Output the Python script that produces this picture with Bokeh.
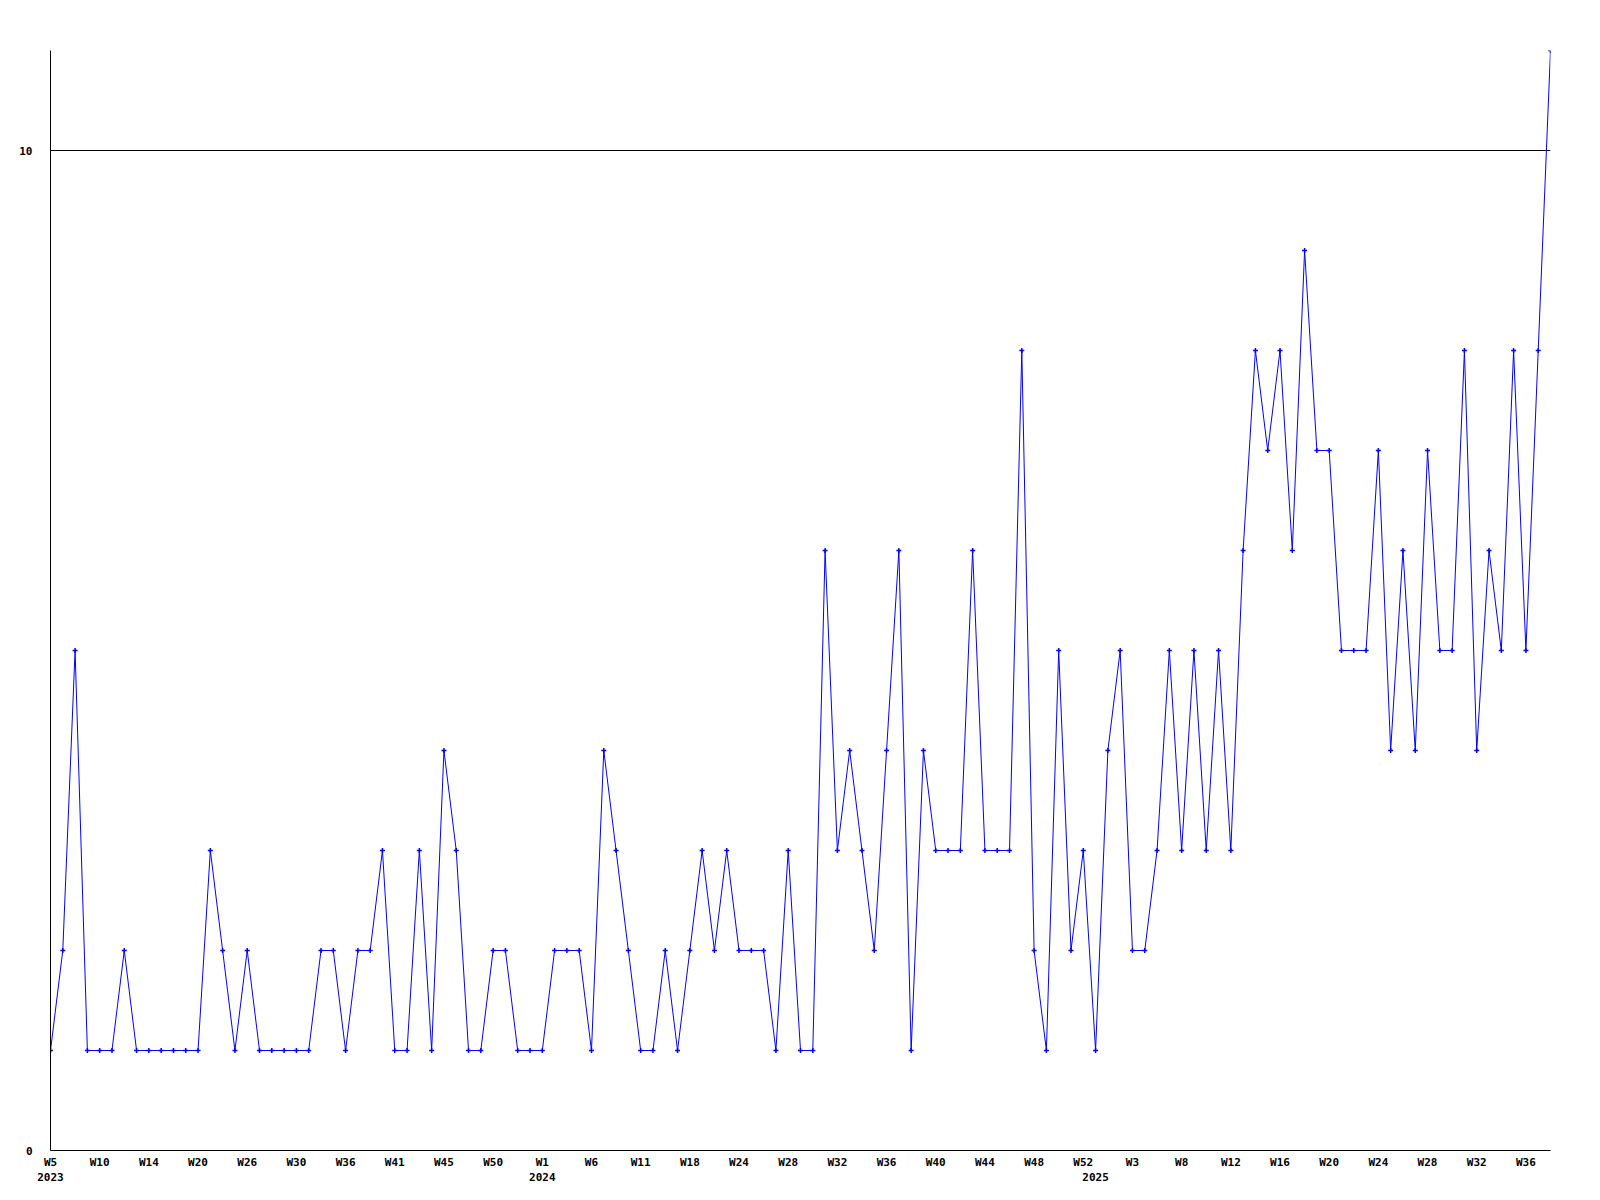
from bokeh.plotting import figure
from bokeh.models import FixedTicker, LinearAxis, Range1d
from bokeh.embed import file_html
from bokeh.resources import INLINE

# Weekly counts (one value per plotted week, left to right)
values = [
    1, 2, 5, 1, 1, 1, 2, 1, 1, 1,
    1, 1, 1, 3, 2, 1, 2, 1, 1, 1,
    1, 1, 2, 2, 1, 2, 2, 3, 1, 1,
    3, 1, 4, 3, 1, 1, 2, 2, 1, 1,
    1, 2, 2, 2, 1, 4, 3, 2, 1, 1,
    2, 1, 2, 3, 2, 3, 2, 2, 2, 1,
    3, 1, 1, 6, 3, 4, 3, 2, 4, 6,
    1, 4, 3, 3, 3, 6, 3, 3, 3, 8,
    2, 1, 5, 2, 3, 1, 4, 5, 2, 2,
    3, 5, 3, 5, 3, 5, 3, 6, 8, 7,
    8, 6, 9, 7, 7, 5, 5, 5, 7, 4,
    6, 4, 7, 5, 5, 8, 4, 6, 5, 8,
    5, 8, 11,
]

# Week tick labels (every 4th point)
week_labels = [
    "W5", "W10", "W14", "W20", "W26", "W30", "W36", "W41", "W45", "W50",
    "W1", "W6", "W11", "W18", "W24", "W28", "W32", "W36", "W40", "W44",
    "W48", "W52", "W3", "W8", "W12", "W16", "W20", "W24", "W28", "W32", "W36",
]
label_step = 4

# Year labels and the index of the first point of each year
years = ["2023", "2024", "2025"]
year_start_index = [0, 40, 85]

y_ticks = [0, 10]
y_max = 11

x = list(range(len(values)))
week_ticks = [i * label_step for i in range(len(week_labels))]

FONT = "DejaVu Sans Mono"

p = figure(
    width=1592, height=1192,
    output_backend="svg", toolbar_location=None,
    x_range=Range1d(0, len(values) - 1),
    y_range=Range1d(0, y_max),
    min_border_left=50, min_border_right=42,
    min_border_top=50, min_border_bottom=42,
)
p.outline_line_color = None
p.background_fill_color = "white"
p.border_fill_color = "white"

# grids
p.xgrid.visible = False
p.ygrid.ticker = FixedTicker(ticks=[10])
p.ygrid.grid_line_color = "black"
p.ygrid.grid_line_width = 1
p.ygrid.grid_line_alpha = 1.0

# y axis (labels left-aligned as in the original)
p.yaxis.ticker = FixedTicker(ticks=y_ticks)
p.yaxis.axis_line_color = "black"
p.yaxis.major_tick_line_color = None
p.yaxis.minor_tick_line_color = None
p.yaxis.major_tick_out = 0
p.yaxis.major_tick_in = 0
p.yaxis.major_label_standoff = 18
p.yaxis.major_label_text_align = "left"
p.yaxis.major_label_text_font = FONT
p.yaxis.major_label_text_font_style = "bold"
p.yaxis.major_label_text_font_size = "11px"
p.yaxis.major_label_text_color = "black"

# x axis (weeks)
p.xaxis.ticker = FixedTicker(ticks=week_ticks)
p.xaxis.major_label_overrides = {t: lab for t, lab in zip(week_ticks, week_labels)}
p.xaxis.axis_line_color = "black"
p.xaxis.major_tick_line_color = None
p.xaxis.minor_tick_line_color = None
p.xaxis.major_tick_out = 0
p.xaxis.major_tick_in = 0
p.xaxis.major_label_standoff = 5
p.xaxis.major_label_text_font = FONT
p.xaxis.major_label_text_font_style = "bold"
p.xaxis.major_label_text_font_size = "11px"
p.xaxis.major_label_text_color = "black"

# second x axis (years)
year_axis = LinearAxis(
    ticker=FixedTicker(ticks=year_start_index),
    major_label_overrides={t: y for t, y in zip(year_start_index, years)},
    axis_line_color=None,
    major_tick_line_color=None,
    minor_tick_line_color=None,
    major_tick_out=0, major_tick_in=0,
    major_label_standoff=1,
    major_label_text_font=FONT,
    major_label_text_font_style="bold",
    major_label_text_font_size="11px",
    major_label_text_color="black",
)
p.add_layout(year_axis, "below")

# data
p.line(x, values, line_color="#0000FF", line_width=1)
p.scatter(x, values, marker="cross", size=5, line_color="#0000FF", line_width=1.5)

open("out.html", "w").write(file_html(p, INLINE))
